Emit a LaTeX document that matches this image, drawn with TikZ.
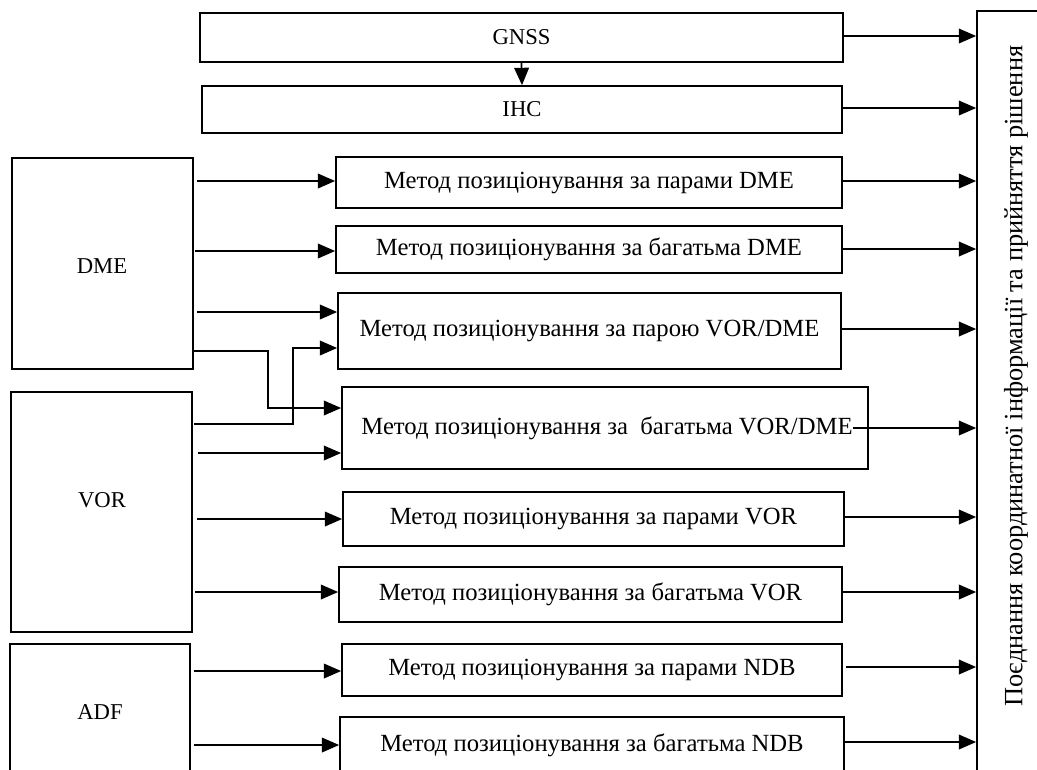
\documentclass[tikz,border=0pt]{standalone}
\usepackage{fontspec}
\setmainfont{Liberation Serif}
\usetikzlibrary{arrows.meta}
\begin{document}
\begin{tikzpicture}[x=0.75pt,y=-0.75pt,
  box/.style={draw,line width=1.3pt,inner sep=0pt,font=\fontsize{17}{20}\selectfont},
  mbox/.style={box,font=\fontsize{18.5}{22}\selectfont},
  sz/.style 2 args={minimum width=#1*0.75pt,minimum height=#2*0.75pt},
  lbl/.style={inner sep=0pt,font=\fontsize{17}{20}\selectfont},
  mlbl/.style={inner sep=0pt,font=\fontsize{18.5}{22}\selectfont},
  arr/.style={line width=1.3pt,-{Triangle[length=13pt,width=11pt]}}]
\useasboundingbox (0,0) rectangle (1037,769);
\clip (0,0) rectangle (1037,769);
% top boxes
\node[box,sz={643}{49}] (gnss) at (521.5,37.5) {GNSS};
\node[box,sz={640}{47}] (ihc) at (522,109.5) {IHC};
% sources
\node[box,sz={181}{211}] (dme) at (102.5,263.5) {};
\node[lbl] (dmelbl) at (102,266) {DME};
\node[box,sz={181}{240}] (vor) at (101.5,512) {};
\node[lbl] (vorlbl) at (102,500) {VOR};
\node[box,sz={180}{156}] (adf) at (100,722) {};
\node[lbl] (adflbl) at (100,712) {ADF};
% methods
\node[mbox,sz={506}{51}] (m1) at (589,182.5) {Метод позиціонування за парами DME};
\node[mbox,sz={506}{47}] (m2) at (589,249.5) {Метод позиціонування за багатьма DME};
\node[mbox,sz={503}{76}] (m3) at (589.5,331) {Метод позиціонування за парою VOR/DME};
\node[mbox,sz={526}{82}] (m4) at (605,428) {};
\node[mlbl] (m4lbl) at (607,428) {Метод позиціонування за\ \ багатьма VOR/DME};
\node[mbox,sz={501}{54}] (m5) at (593.5,519) {Метод позиціонування за парами VOR};
\node[mbox,sz={503}{55}] (m6) at (590.5,594.5) {Метод позиціонування за багатьма VOR};
\node[mbox,sz={500}{52}] (m7) at (592,670) {Метод позиціонування за парами NDB};
\node[mbox,sz={504}{56}] (m8) at (592,745) {Метод позиціонування за багатьма NDB};
% fusion box
\node[box,sz={83}{789}] (fuse) at (1018.5,405.5) {};
\node[inner sep=0pt,font=\fontsize{19.8}{22}\selectfont,rotate=90] (fuselbl) at (1016,376) {Поєднання координатної інформації та прийняття рішення};
% GNSS -> IHC
\draw[arr] (gnss.south) -- (ihc.north);
% inputs
\coordinate (d1) at (197,181);
\coordinate (d2) at (195,251);
\coordinate (d3) at (197,312);
\coordinate (d4) at (193,351);
\coordinate (v1) at (194,424);
\coordinate (v2) at (198,453);
\coordinate (v3) at (197,519);
\coordinate (v4) at (195,592);
\coordinate (a1) at (194,671);
\coordinate (a2) at (194,745);
\draw[arr] (d1) -- (d1 -| m1.west);
\draw[arr] (d2) -- (d2 -| m2.west);
\draw[arr] (d3) -- (d3 -| m3.west);
\draw[arr] (d4) -- (268,351) -- (268,408) -- (m4.west |- 0,408);
\draw[arr] (v1) -- (293,424) -- (293,348) -- (m3.west |- 0,348);
\draw[arr] (v2) -- (v2 -| m4.west);
\draw[arr] (v3) -- (v3 -| m5.west);
\draw[arr] (v4) -- (v4 -| m6.west);
\draw[arr] (a1) -- (a1 -| m7.west);
\draw[arr] (a2) -- (a2 -| m8.west);
% outputs
\coordinate (o1) at (843,36);
\coordinate (o2) at (842,108);
\coordinate (o3) at (842,181);
\coordinate (o4) at (842,249);
\coordinate (o5) at (841,329);
\coordinate (o6) at (m4lbl.east);
\coordinate (o7) at (844,517);
\coordinate (o8) at (842,592);
\coordinate (o9) at (846,667);
\coordinate (o10) at (845,742);
\foreach \o in {o1,o2,o3,o4,o5,o6,o7,o8,o9,o10}
  \draw[arr] (\o) -- (\o -| fuse.west);
\end{tikzpicture}
\end{document}
